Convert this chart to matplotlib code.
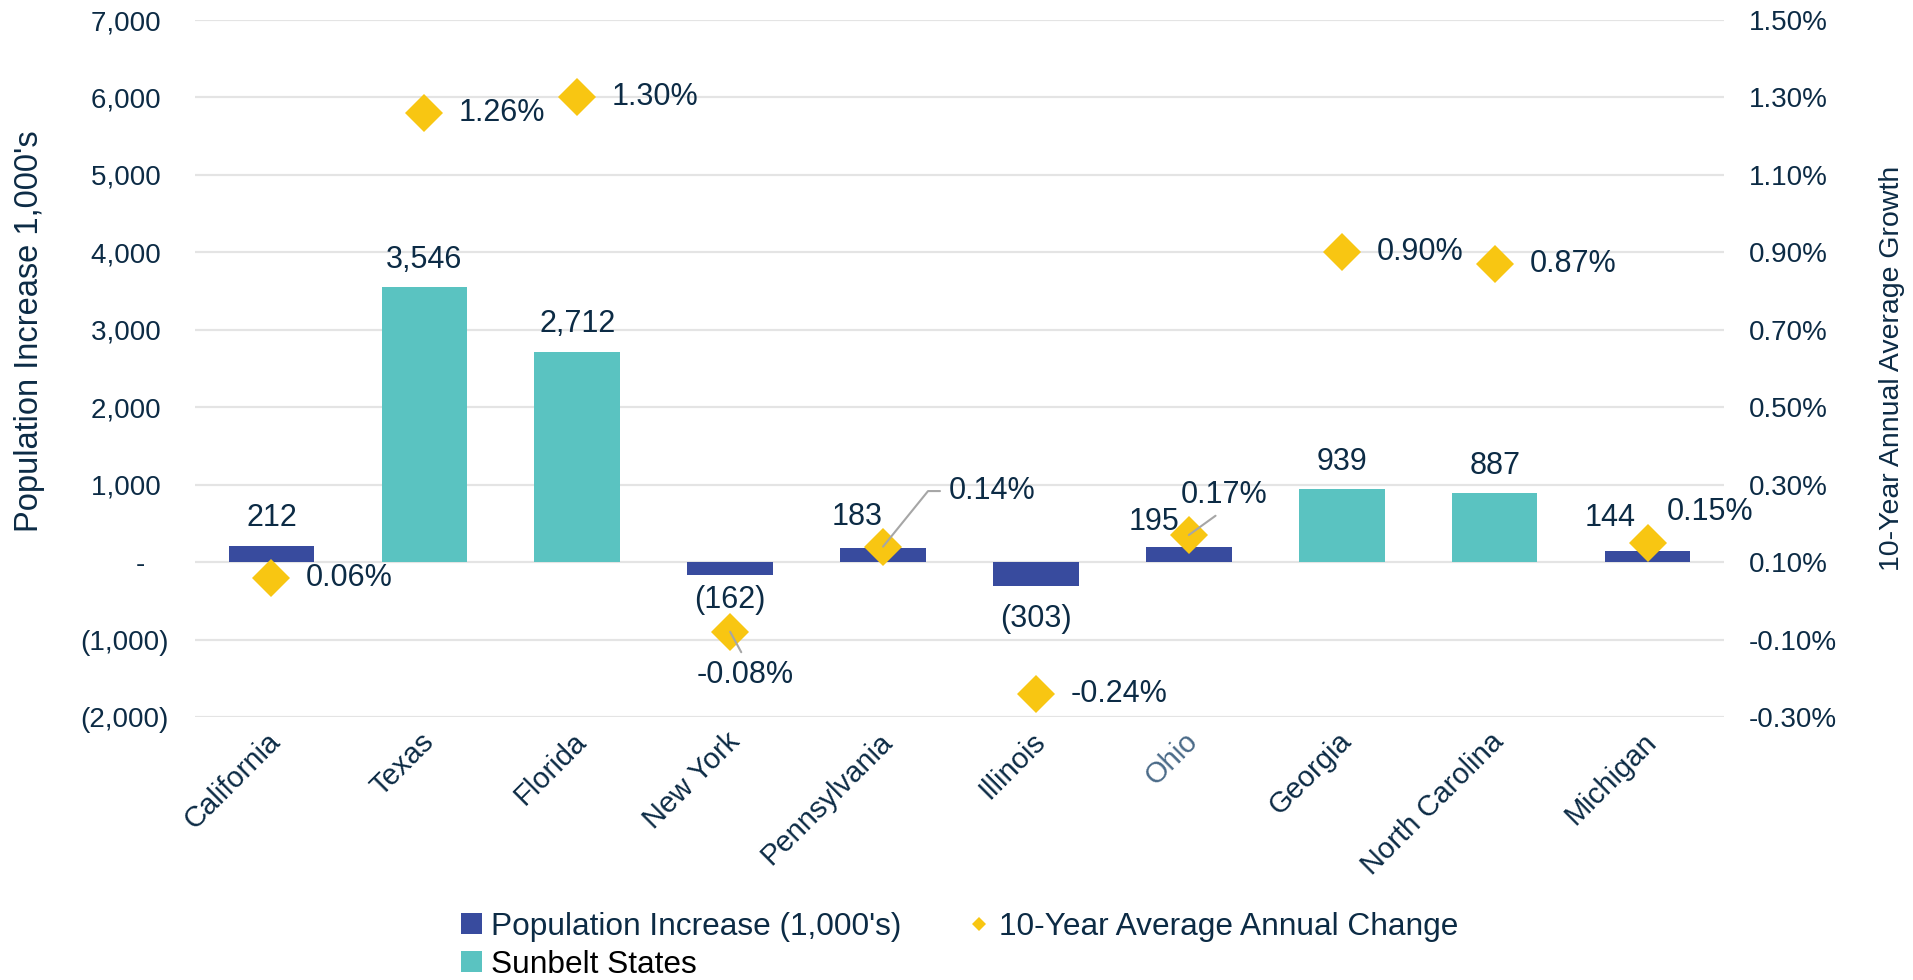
import numpy as np
import matplotlib
matplotlib.use('Agg')
import matplotlib.pyplot as plt
from matplotlib.patches import Patch
from matplotlib.lines import Line2D
from matplotlib.transforms import ScaledTranslation
from matplotlib.ticker import FuncFormatter

plt.rcParams['font.family'] = ['Liberation Sans', 'DejaVu Sans']

states = ['California', 'Texas', 'Florida', 'New York', 'Pennsylvania',
          'Illinois', 'Ohio', 'Georgia', 'North Carolina', 'Michigan']
pop_increase = [212, 3546, 2712, -162, 183, -303, 195, 939, 887, 144]
avg_change = [0.06, 1.26, 1.30, -0.08, 0.14, -0.24, 0.17, 0.90, 0.87, 0.15]
sunbelt = ['Texas', 'Florida', 'Georgia', 'North Carolina']

navy = '#384B9E'
teal = '#5AC3C1'
gold = '#F8C612'
txt = '#0C2B45'
grid_c = '#E4E4E4'
leader_c = '#A6A6A6'

# label offsets in points (x, y) where the default spot would collide
bar_lbl_off = {'Pennsylvania': (-19, 22), 'Ohio': (-25, 18), 'Michigan': (-27, 24),
               'New York': (0, -18), 'Illinois': (0, -24)}
pct_lbl_off = {'Michigan': (14, 22, 'left'), 'Pennsylvania': (47, 40, 'left'),
               'Ohio': (-6, 29, 'left'), 'New York': (11, -31, 'center')}
leaders = {'Pennsylvania': ((0, 0.5), 'angle,angleA=0,angleB=51,rad=0'),
           'Ohio': ((0.5, 0), 'arc3'),
           'New York': ((0.5, 1), 'arc3')}

fig = plt.figure(figsize=(19.13, 9.8), dpi=100)
ax = fig.add_axes([195 / 1913, 1 - 717 / 980, (1724 - 195) / 1913, 697 / 980])
x = np.arange(len(states))
colors = [teal if s in sunbelt else navy for s in states]
ax.bar(x, pop_increase, width=0.56, color=colors, zorder=2)

ax.set_xlim(-0.5, len(states) - 0.5)
ax.set_ylim(-2000, 7000)
ax.set_yticks(np.arange(-2000, 7001, 1000))


def left_fmt(v, pos):
    if v == 0:
        return '-   '
    if v < 0:
        return '({:,.0f})'.format(-v)
    return '{:,.0f} '.format(v)


ax.yaxis.set_major_formatter(FuncFormatter(left_fmt))
ax.grid(axis='y', color=grid_c, linewidth=1.6, zorder=0)
ax.set_axisbelow(True)
for sp in ax.spines.values():
    sp.set_visible(False)
ax.tick_params(axis='y', length=0, pad=19, labelsize=20, labelcolor=txt)
ax.tick_params(axis='x', length=0, pad=14.5, labelcolor=txt)
ax.set_xticks(x)
ax.set_xticklabels(states, rotation=45, ha='right', va='center',
                   rotation_mode='anchor', fontsize=21)
shift = ScaledTranslation(0.05, 0, fig.dpi_scale_trans)
for lbl in ax.get_xticklabels():
    lbl.set_transform(lbl.get_transform() + shift)
    if lbl.get_text() == 'Ohio':
        lbl.set_color('#4A6A88')

ax.set_ylabel("Population Increase 1,000's", fontsize=23.5, color=txt)
ax.yaxis.set_label_coords(-0.098, 0.553)

# bar value labels
for i, (s, v) in enumerate(zip(states, pop_increase)):
    lbl = '{:,.0f}'.format(v) if v >= 0 else '({:,.0f})'.format(-v)
    dx, dy = bar_lbl_off.get(s, (0, 20 if v >= 0 else -20))
    ax.annotate(lbl, (i, v), xytext=(dx, dy), textcoords='offset points',
                ha='center', va='center', fontsize=22, color=txt, zorder=5)

ax2 = ax.twinx()
ax2.set_ylim(-0.30, 1.50)
ax2.set_yticks(np.linspace(-0.30, 1.50, 10))
ax2.yaxis.set_major_formatter(FuncFormatter(lambda v, p: '{:.2f}%'.format(v)))
for sp in ax2.spines.values():
    sp.set_visible(False)
ax2.tick_params(axis='y', length=0, pad=18, labelsize=20, labelcolor=txt)
ax2.plot(x, avg_change, linestyle='none', marker='D', markersize=19,
         color=gold, markeredgewidth=0, zorder=3)
ax2.set_ylabel('10-Year Annual Average Growth', fontsize=20.5, color=txt,
               rotation=90)
ax2.yaxis.set_label_coords(1.1015, 0.5)

for i, (s, v) in enumerate(zip(states, avg_change)):
    dx, dy, ha = pct_lbl_off.get(s, (25, 0, 'left'))
    arrow = None
    if s in leaders:
        rel, conn = leaders[s]
        arrow = dict(arrowstyle='-', color=leader_c, lw=1.5, relpos=rel,
                     connectionstyle=conn, shrinkA=4, shrinkB=0)
    ax2.annotate('{:.2f}%'.format(v), (i, v), xytext=(dx, dy),
                 textcoords='offset points', ha=ha, va='center',
                 fontsize=22, color=txt, arrowprops=arrow, zorder=6)

handles = [Patch(facecolor=navy), Patch(facecolor=teal),
           Line2D([], [], linestyle='none', marker='D', markersize=7,
                  color=gold, markeredgewidth=0)]
labels = ["Population Increase (1,000's)", 'Sunbelt States',
          '10-Year Average Annual Change']
leg = fig.legend(handles, labels, ncol=2, loc='upper left',
                 bbox_to_anchor=(461 / 1913, 1 - 912 / 980), frameon=False,
                 fontsize=22.8, handlelength=0.65, handleheight=0.65,
                 handletextpad=0.3, columnspacing=2.13, labelspacing=0.25,
                 borderpad=0, borderaxespad=0)
for t in leg.get_texts():
    t.set_color(txt)
leg.get_texts()[1].set_color('black')

fig.savefig('out.png', dpi=100)
